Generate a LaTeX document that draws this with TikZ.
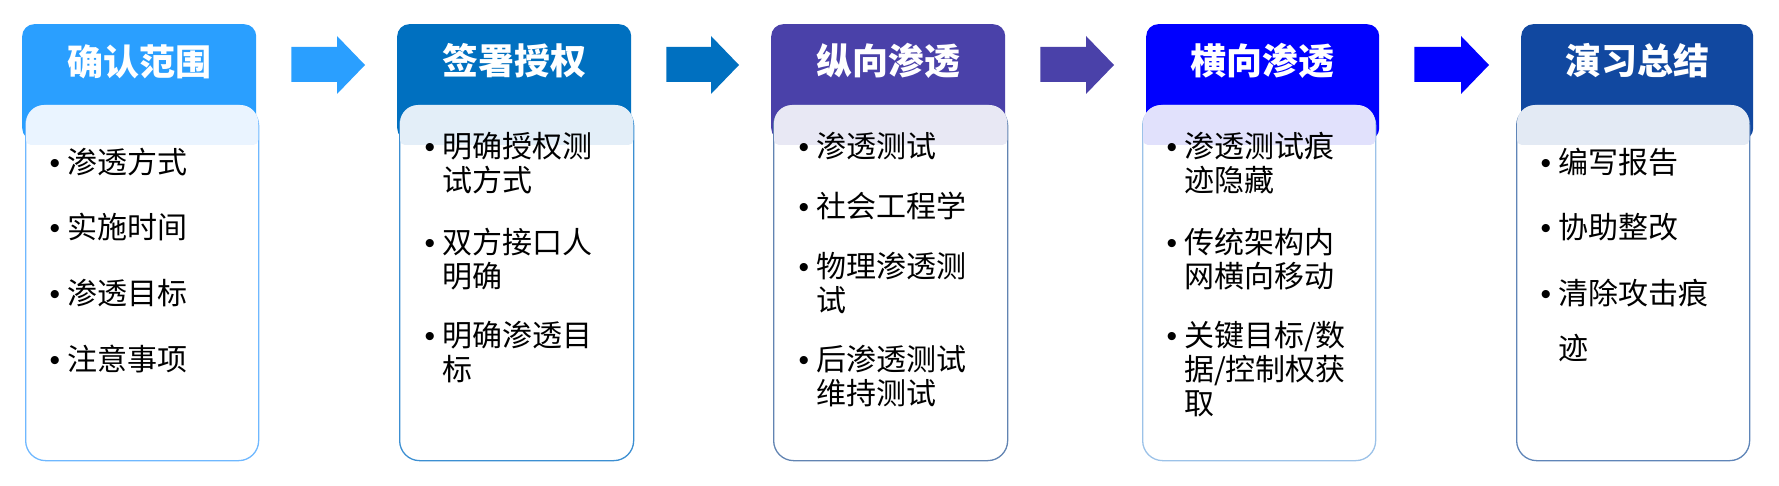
\documentclass[tikz,border=0pt]{standalone}
\usepackage{fontspec}
\newfontfamily\cjk{Noto Sans CJK SC}
\newfontfamily\bulfont{Liberation Sans}
\usetikzlibrary{calc}
\definecolor{hA}{HTML}{2A9FFF}
\definecolor{hB}{HTML}{0070C0}
\definecolor{hC}{HTML}{4A41A9}
\definecolor{hD}{HTML}{0000FF}
\definecolor{hE}{HTML}{1148A0}
\definecolor{gA}{HTML}{EAF4FF}
\definecolor{gB}{HTML}{E3EEF8}
\definecolor{gC}{HTML}{E8E8F4}
\definecolor{gD}{HTML}{E1E1FC}
\definecolor{gE}{HTML}{E3EAF4}
\definecolor{bA}{HTML}{6FB8FF}
\definecolor{bB}{HTML}{3C8FD2}
\definecolor{bC}{HTML}{6284B2}
\definecolor{bD}{HTML}{9CC2E8}
\definecolor{bE}{HTML}{5F85B8}
\newcommand\bul{\llap{{\bulfont\fontsize{30}{34}\selectfont\textbullet}\hspace{7pt}}}
\newcommand\flowarrow[3]{%
  \fill[#3] let \p1=(#1.east), \p2=(#2.west) in
    (\x1+35pt,-47pt) -- (\x2-60pt,-47pt) -- (\x2-60pt,-36pt) -- (\x2-32pt,-65pt)
    -- (\x2-60pt,-94pt) -- (\x2-60pt,-82pt) -- (\x1+35pt,-82pt) -- cycle;}
\newcommand\band[2]{%
  \fill[#2, rounded corners=18pt] ($(#1.north west)+(1,0)$) rectangle ($(#1.north east)+(-1,35)$);
  \fill[#2, rounded corners=5pt] ($(#1.north west)+(1,15)$) rectangle ($(#1.north east)+(-1,40)$);}
\begin{document}
\begin{tikzpicture}[x=1pt,y=-1pt,
  header/.style={rounded corners=12pt, inner sep=0pt, anchor=north west, minimum height=116pt},
  body/.style={rounded corners=20pt, inner sep=0pt, anchor=north west, fill=white, line width=1.3pt, minimum height=355pt},
  title/.style={text=white, inner sep=0pt, font=\cjk\bfseries\fontsize{36}{40}\selectfont},
  item/.style={anchor=base west, inner sep=0pt, font=\cjk\fontsize{30}{34}\selectfont}]
\useasboundingbox (0,0) rectangle (1779,486);

% headers
\node[header, fill=hA, minimum width=234pt] (h1) at (22,24) {};
\node[header, fill=hB, minimum width=234pt] (h2) at (397,24) {};
\node[header, fill=hC, minimum width=234pt] (h3) at (771,24) {};
\node[header, fill=hD, minimum width=233pt] (h4) at (1146,24) {};
\node[header, fill=hE, minimum width=232pt] (h5) at (1521,24) {};

% bodies
\node[body, draw=bA, minimum width=233pt] (b1) at (25,105) {};
\node[body, draw=bB, minimum width=234pt] (b2) at (399,105) {};
\node[body, draw=bC, minimum width=234pt] (b3) at (773,105) {};
\node[body, draw=bD, minimum width=233pt] (b4) at (1142,105) {};
\node[body, draw=bE, minimum width=233pt] (b5) at (1516,105) {};

\band{b1}{gA}
\band{b2}{gB}
\band{b3}{gC}
\band{b4}{gD}
\band{b5}{gE}

% titles
\node[title] (t1) at ($(h1.north)+(0,38)$) {确认范围};
\node[title] (t2) at ($(h2.north)+(0,37)$) {签署授权};
\node[title] (t3) at ($(h3.north)+(0,37)$) {纵向渗透};
\node[title] (t4) at ($(h4.north)+(0,37)$) {横向渗透};
\node[title] (t5) at ($(h5.north)+(0,37)$) {演习总结};

% arrows
\flowarrow{h1}{h2}{hA}
\flowarrow{h2}{h3}{hB}
\flowarrow{h3}{h4}{hC}
\flowarrow{h4}{h5}{hD}

% items box 1
\node[item] (i11) at (67,174) {\bul 渗透方式};
\node[item] (i12) at (67,239) {\bul 实施时间};
\node[item] (i13) at (67,304) {\bul 渗透目标};
\node[item] (i14) at (67,370) {\bul 注意事项};
% box 2
\node[item] (i21) at (442,158) {\vtop{\hbox{\bul 明确授权测}\hbox{试方式}}};
\node[item] (i22) at (442,254) {\vtop{\hbox{\bul 双方接口人}\hbox{明确}}};
\node[item] (i23) at (442,346) {\vtop{\hbox{\bul 明确渗透目}\hbox{标}}};
% box 3
\node[item] (i31) at (816,158) {\bul 渗透测试};
\node[item] (i32) at (816,218) {\bul 社会工程学};
\node[item] (i33) at (816,277) {\vtop{\hbox{\bul 物理渗透测}\hbox{试}}};
\node[item] (i34) at (816,370) {\vtop{\hbox{\bul 后渗透测试}\hbox{维持测试}}};
% box 4
\node[item] (i41) at (1184,158) {\vtop{\hbox{\bul 渗透测试痕}\hbox{迹隐藏}}};
\node[item] (i42) at (1184,254) {\vtop{\hbox{\bul 传统架构内}\hbox{网横向移动}}};
\node[item] (i43) at (1184,346) {\vtop{\hbox{\bul 关键目标/数}\hbox{据/控制权获}\hbox{取}}};
% box 5
\node[item] (i51) at (1558,174) {\bul 编写报告};
\node[item] (i52) at (1558,239) {\bul 协助整改};
\node[item] (i53) at (1558,304) {\vtop{\hbox{\bul 清除攻击痕}\vskip21pt\hbox{迹}}};
\end{tikzpicture}
\end{document}
